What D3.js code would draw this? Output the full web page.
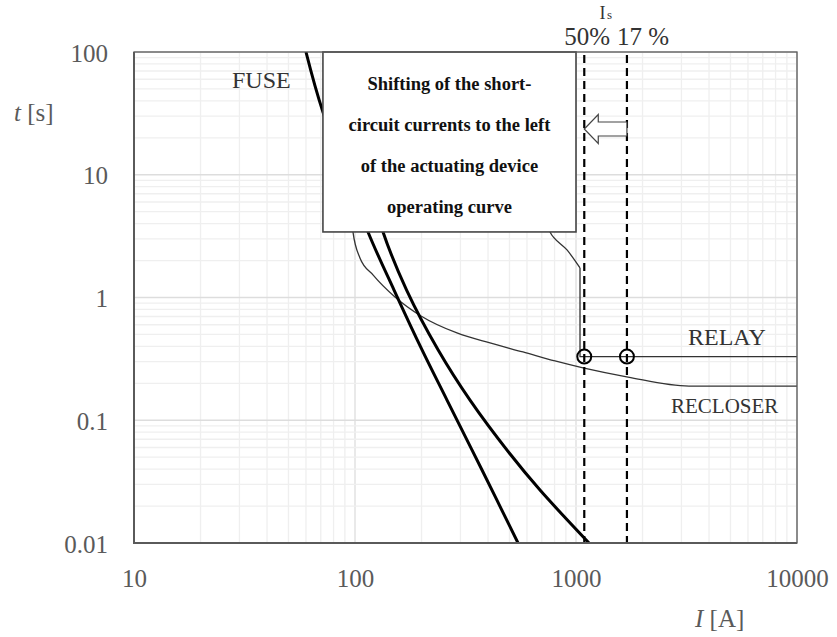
<!DOCTYPE html>
<html>
<head>
<meta charset="utf-8">
<script src="https://cdnjs.cloudflare.com/ajax/libs/d3/7.8.5/d3.min.js"></script>
<style>
  html, body { margin: 0; padding: 0; background: #fff; }
  svg { display: block; }
</style>
</head>
<body>
<svg id="chart" width="837" height="637"></svg>
<script>
// Time-current characteristics (current I in A, time t in s)
const fuseMinI = [60.0, 71.6, 114.5, 150.2, 201.1, 260.8, 375.6, 546.6];
const fuseMinT = [100, 32.4, 3.42, 1.15, 0.374, 0.146, 0.0393, 0.01];

const fuseMaxI = [77.1, 94.9, 133.9, 171.2, 237.9, 331.5, 499.2, 687.2, 1145];
const fuseMaxT = [100, 32.4, 3.42, 1.15, 0.374, 0.146, 0.0541, 0.0270, 0.01];

const recloserI = [94.9, 95.9, 97.9, 105.3, 120.6, 151.7, 198.9, 289.3, 408.2, 575.6, 803.5, 1075.7, 1719, 3246, 10000];
const recloserT = [100, 15.9, 3.42, 2.10, 1.53, 1.01, 0.707, 0.514, 0.426, 0.360, 0.304, 0.267, 0.225, 0.190, 0.190];

// Relay: inverse-time part, then instantaneous pickup and definite time
const relayI = [606.5, 673, 762.7, 910.6, 1042.6];
const relayT = [100, 15.9, 3.42, 2.44, 1.74];
const relayPickupI = 1042.6;
const relayDefT = 0.33;
const relayEndI = 10000;

// Short-circuit currents Is (reduced by 50 % and by 17 %)
const shortCircuitI = [1090, 1700];
const shortCircuitLabels = ["50%", "17 %"];
const arrowT = 23.6;

const xTicks = [10, 100, 1000, 10000];
const yTicks = [0.01, 0.1, 1, 10, 100];
const yTickLabels = ["0.01", "0.1", "1", "10", "100"];

// Text box extent in data coordinates
const noteI = [71.6, 1000];
const noteT = [100, 3.42];
const noteLines = ["Shifting of the short-", "circuit currents to the left", "of the actuating device", "operating curve"];

const svg = d3.select("#chart");
const pL = 134, pR = 797, pT = 52, pB = 543;

const x = d3.scaleLog().domain([10, 10000]).range([pL, pR]);
const y = d3.scaleLog().domain([0.01, 100]).range([pB, pT]);

const serif = "'Liberation Serif', 'Times New Roman', serif";
const labelColor = "#5a5a5a";

// grid
const grid = svg.append("g");
const isMajor = v => Math.abs(Math.log10(v) - Math.round(Math.log10(v))) < 1e-9;
grid.selectAll("line.vx").data(x.ticks()).join("line")
  .attr("x1", d => x(d)).attr("x2", d => x(d))
  .attr("y1", pT).attr("y2", pB)
  .attr("stroke", d => isMajor(d) ? "#dddddd" : "#efefef")
  .attr("stroke-width", 1.3);
grid.selectAll("line.hy").data(y.ticks()).join("line")
  .attr("y1", d => y(d)).attr("y2", d => y(d))
  .attr("x1", pL).attr("x2", pR)
  .attr("stroke", d => isMajor(d) ? "#dddddd" : "#efefef")
  .attr("stroke-width", 1.3);

svg.append("defs").append("clipPath").attr("id", "plotClip")
  .append("rect").attr("x", pL).attr("y", pT)
  .attr("width", pR - pL).attr("height", pB - pT);

const plot = svg.append("g").attr("clip-path", "url(#plotClip)");

const zip = (I, T) => I.map((v, i) => [v, T[i]]);
const smooth = d3.line().x(d => x(d[0])).y(d => y(d[1])).curve(d3.curveCatmullRom.alpha(0.5));
const monotone = d3.line().x(d => x(d[0])).y(d => y(d[1])).curve(d3.curveMonotoneX);
const straight = d3.line().x(d => x(d[0])).y(d => y(d[1]));

// recloser
plot.append("path").attr("d", monotone(zip(recloserI, recloserT)))
  .attr("fill", "none").attr("stroke", "#333").attr("stroke-width", 1.3);

// relay
plot.append("path").attr("d", smooth(zip(relayI, relayT)))
  .attr("fill", "none").attr("stroke", "#333").attr("stroke-width", 1.3);
plot.append("path").attr("d", straight([[relayPickupI, relayT[relayT.length - 1]], [relayPickupI, relayDefT], [relayEndI, relayDefT]]))
  .attr("fill", "none").attr("stroke", "#333").attr("stroke-width", 1.3);

// fuse curves
[zip(fuseMinI, fuseMinT), zip(fuseMaxI, fuseMaxT)].forEach(pts => {
  plot.append("path").attr("d", smooth(pts))
    .attr("fill", "none").attr("stroke", "#000").attr("stroke-width", 3);
});

// short-circuit current markers
shortCircuitI.forEach(I => {
  plot.append("line")
    .attr("x1", x(I)).attr("x2", x(I))
    .attr("y1", pT + 3).attr("y2", pB)
    .attr("stroke", "#000").attr("stroke-width", 2.2)
    .attr("stroke-dasharray", "8,5");
  plot.append("circle")
    .attr("cx", x(I)).attr("cy", y(relayDefT)).attr("r", 7)
    .attr("fill", "none").attr("stroke", "#000").attr("stroke-width", 2);
});

// hollow arrow pointing from the 17 % current to the 50 % current
{
  const xt = x(shortCircuitI[0]), xe = x(shortCircuitI[1]), yc = y(arrowT);
  const hw = 14, hh = 14.5, sh = 7;
  const pts = [[xt, yc], [xt + hw, yc - hh], [xt + hw, yc - sh], [xe, yc - sh],
               [xe, yc + sh], [xt + hw, yc + sh], [xt + hw, yc + hh]];
  svg.append("polygon").attr("points", pts.map(p => p.join(",")).join(" "))
    .attr("fill", "#fff").attr("stroke", "#444").attr("stroke-width", 1.2);
}

// note box
{
  const bx0 = x(noteI[0]), bx1 = x(noteI[1]), by0 = y(noteT[0]), by1 = y(noteT[1]);
  svg.append("rect").attr("x", bx0).attr("y", by0)
    .attr("width", bx1 - bx0).attr("height", by1 - by0)
    .attr("fill", "#fff").attr("stroke", "#444").attr("stroke-width", 1.6);
  const cx = (bx0 + bx1) / 2;
  svg.append("g").selectAll("text").data(noteLines).join("text")
    .attr("x", cx).attr("y", (d, i) => 90 + i * 41)
    .attr("text-anchor", "middle")
    .attr("font-family", serif).attr("font-weight", "bold")
    .attr("font-size", 18.5).attr("fill", "#111")
    .text(d => d);
}

// plot frame
svg.append("rect").attr("x", pL).attr("y", pT)
  .attr("width", pR - pL).attr("height", pB - pT)
  .attr("fill", "none").attr("stroke", "#5a5a5a").attr("stroke-width", 1.3);
svg.append("path").attr("d", `M${pL},${pT}V${pB}H${pR}`)
  .attr("fill", "none").attr("stroke", "#5a5a5a").attr("stroke-width", 2);

// axes
const xAxis = svg.append("g").attr("transform", `translate(0,${pB})`)
  .call(d3.axisBottom(x).tickValues(xTicks).tickSize(0).tickPadding(0).tickFormat(d3.format("d")));
xAxis.select(".domain").remove();
xAxis.selectAll("text").attr("y", 44).attr("dy", null)
  .attr("font-family", serif).attr("font-size", 25).attr("fill", labelColor);

const yAxis = svg.append("g").attr("transform", `translate(${pL},0)`)
  .call(d3.axisLeft(y).tickValues(yTicks).tickSize(0).tickPadding(26)
    .tickFormat((d, i) => yTickLabels[i]));
yAxis.select(".domain").remove();
yAxis.selectAll("text").attr("dy", "0.36em")
  .attr("font-family", serif).attr("font-size", 25).attr("fill", labelColor);

// axis titles
const tTitle = svg.append("text").attr("x", 14).attr("y", 121)
  .attr("font-family", serif).attr("font-size", 25).attr("fill", labelColor);
tTitle.append("tspan").attr("font-style", "italic").text("t");
tTitle.append("tspan").text(" [s]");

const iTitle = svg.append("text").attr("x", 695).attr("y", 627)
  .attr("font-family", serif).attr("font-size", 25).attr("fill", labelColor);
iTitle.append("tspan").attr("font-style", "italic").text("I");
iTitle.append("tspan").text(" [A]");

// curve labels
svg.append("text").attr("x", 232).attr("y", 88)
  .attr("font-family", serif).attr("font-size", 24).attr("fill", "#333").text("FUSE");
svg.append("text").attr("x", 688).attr("y", 345)
  .attr("font-family", serif).attr("font-size", 24).attr("fill", "#333").text("RELAY");
svg.append("text").attr("x", 671).attr("y", 413)
  .attr("font-family", serif).attr("font-size", 21).attr("fill", "#333").text("RECLOSER");

// Is label above the dashed markers: capital I with a small s after it
const isMid = (x(shortCircuitI[0]) + x(shortCircuitI[1])) / 2;
svg.append("text").attr("x", isMid).attr("y", 19).attr("text-anchor", "end")
  .attr("font-family", serif).attr("font-size", 18).attr("fill", "#333").text("I");
svg.append("text").attr("x", isMid + 1.5).attr("y", 19)
  .attr("font-family", serif).attr("font-size", 13).attr("fill", "#333").text("s");

svg.append("text").attr("x", 610).attr("y", 45).attr("text-anchor", "end")
  .attr("font-family", serif).attr("font-size", 25).attr("fill", "#333")
  .text(shortCircuitLabels[0]);
svg.append("text").attr("x", 617).attr("y", 45)
  .attr("font-family", serif).attr("font-size", 25).attr("fill", "#333")
  .text(shortCircuitLabels[1]);
</script>
</body>
</html>
